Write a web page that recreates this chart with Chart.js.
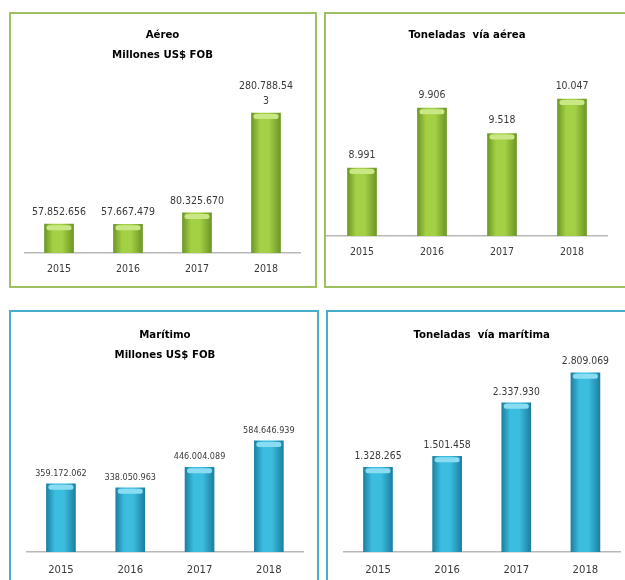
<!DOCTYPE html>
<html>
<head>
<meta charset="utf-8">
<script src="https://cdn.jsdelivr.net/npm/chart.js@4.4.0/dist/chart.umd.min.js"></script>
<style>
  body { margin: 0; background: #fff; width: 625px; height: 580px; overflow: hidden; position: relative; }
  .panel { position: absolute; border: 2px solid; box-sizing: border-box; overflow: hidden; }
  .green { border-color: #9fc060; }
  .blue { border-color: #4aaccd; }
  canvas { display: block; }
</style>
</head>
<body>
<div class="panel green" style="left:9px;top:12px;width:308px;height:276px"><canvas id="c1" width="304" height="272"></canvas></div>
<div class="panel green" style="left:324px;top:12px;width:310px;height:276px"><canvas id="c2" width="299" height="272"></canvas></div>
<div class="panel blue" style="left:9px;top:310px;width:310px;height:290px"><canvas id="c3" width="306" height="280"></canvas></div>
<div class="panel blue" style="left:326px;top:310px;width:310px;height:290px"><canvas id="c4" width="297" height="280"></canvas></div>
<script>
var years = ['2015', '2016', '2017', '2018']
var aereoUsd = [57852656, 57667479, 80325670, 280788543]
var aereoTon = [8991, 9906, 9518, 10047]
var maritimoUsd = [359172062, 338050963, 446004089, 584646939]
var maritimoTon = [1328265, 1501458, 2337930, 2809069]

var FONT = "'Liberation Sans Narrow', 'DejaVu Sans Condensed', sans-serif"

var greens = { edge: '#6a9424', mid: '#a3d044', cap: '#c9e785' }
var blues = { edge: '#1b7d9e', mid: '#3bbde0', cap: '#8adcf2' }

function fmt (v) {
  return String(v).replace(/\B(?=(\d{3})+(?!\d))/g, '.')
}

function wrap (txt, n) {
  var out = []
  while (txt.length > n) { out.push(txt.slice(0, n)); txt = txt.slice(n) }
  out.push(txt)
  return out
}

// tapa clara arriba de cada barra + etiqueta con el valor
var barDecor = {
  id: 'barDecor',
  afterDatasetsDraw: function (chart, args, o) {
    var ctx = chart.ctx
    var meta = chart.getDatasetMeta(0)
    var data = chart.data.datasets[0].data
    meta.data.forEach(function (bar, i) {
      var p = bar.getProps(['x', 'y', 'width'], true)
      ctx.save()
      ctx.fillStyle = o.colors.cap
      ctx.beginPath()
      ctx.roundRect(p.x - p.width / 2 + 2, p.y + 1, p.width - 4, 5, 2.5)
      ctx.fill()
      ctx.font = o.size + 'px ' + FONT
      ctx.fillStyle = '#3a3a3a'
      ctx.textAlign = 'center'
      ctx.textBaseline = 'middle'
      var lines = wrap(fmt(data[i]), o.wrap || 99)
      lines.forEach(function (t, j) {
        ctx.fillText(t, p.x, p.y - o.gap - (lines.length - 1 - j) * 15)
      })
      ctx.restore()
    })
  }
}

function makeChart (id, values, cfg) {
  var colors = cfg.colors
  new Chart(document.getElementById(id), {
    type: 'bar',
    data: {
      labels: years,
      datasets: [{
        data: values,
        barThickness: 29,
        backgroundColor: function (c) {
          var x = c.chart.scales.x
          if (!x || c.dataIndex === undefined) return colors.mid
          var cx = x.getPixelForValue(c.dataIndex)
          if (!isFinite(cx)) return colors.mid
          var g = c.chart.ctx.createLinearGradient(cx - 15, 0, cx + 15, 0)
          g.addColorStop(0, colors.edge)
          g.addColorStop(0.3, colors.mid)
          g.addColorStop(0.6, colors.mid)
          g.addColorStop(1, colors.edge)
          return g
        }
      }]
    },
    options: {
      responsive: false,
      animation: false,
      layout: { padding: cfg.padding },
      plugins: {
        legend: { display: false },
        tooltip: { enabled: false },
        title: {
          display: true,
          text: cfg.title,
          color: '#000',
          font: { family: FONT, size: 11.3, weight: 'bold', lineHeight: '20px' },
          padding: cfg.titlePad
        },
        barDecor: { colors: colors, size: cfg.valueSize, gap: cfg.gap, wrap: cfg.wrap }
      },
      scales: {
        x: {
          grid: { display: false, drawTicks: false },
          border: { display: true, color: '#b8b8b8', width: 1.5 },
          ticks: { color: '#3a3a3a', padding: cfg.tickPad, font: { family: FONT, size: cfg.tickSize } }
        },
        y: { display: false, min: cfg.min, max: cfg.max }
      }
    },
    plugins: [barDecor]
  })
}

makeChart('c1', aereoUsd, {
  title: ['Aéreo', 'Millones US$ FOB'], colors: greens,
  padding: { left: 13.5, right: 14.5, top: 0, bottom: 0.4 },
  titlePad: { top: 11, bottom: 10 }, tickPad: 10, tickSize: 10.5,
  min: 0, max: 357000000, valueSize: 10.5, gap: 12, wrap: 10
})

makeChart('c2', aereoTon, {
  title: 'Toneladas  vía aérea', colors: greens,
  padding: { left: 1, right: 18, top: 0, bottom: 17.4 },
  titlePad: { top: 11, bottom: 20 }, tickPad: 10, tickSize: 10.5,
  min: 7950, max: 10567, valueSize: 10.4, gap: 13
})

makeChart('c3', maritimoUsd, {
  title: ['Marítimo', 'Millones US$ FOB'], colors: blues,
  padding: { left: 15.3, right: 13.5, top: 0, bottom: 4 },
  titlePad: { top: 13, bottom: 10 }, tickPad: 11.25, tickSize: 11.2,
  min: 0, max: 931600000, valueSize: 9, gap: 10.5
})

makeChart('c4', maritimoTon, {
  title: 'Toneladas  vía marítima', colors: blues,
  padding: { left: 15.4, right: 5, top: 0, bottom: 4 },
  titlePad: { top: 13, bottom: 10 }, tickPad: 11.25, tickSize: 11.2,
  min: 0, max: 3088000, valueSize: 10.3, gap: 11
})
</script>
</body>
</html>
